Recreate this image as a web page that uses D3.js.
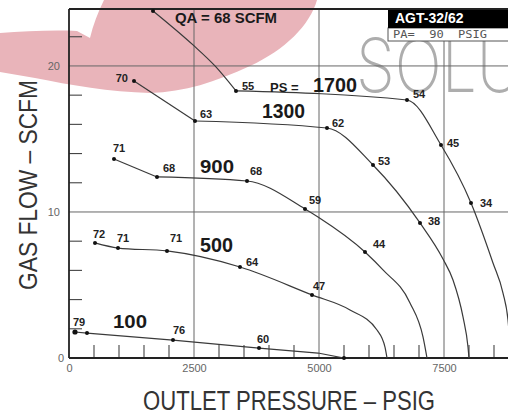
<!DOCTYPE html>
<html><head><meta charset="utf-8">
<script src="https://cdn.jsdelivr.net/npm/d3@7"></script>
<style>body{margin:0;background:#fff}svg{display:block}</style>
</head><body><svg id="c" width="508" height="417"></svg>
<script>
// ---------- data (outlet pressure psig, gas flow SCFM) ----------
const pressureTicks = [0, 2500, 5000, 7500];
const flowTicks = [0, 10, 20];
const psLevels = ["100", "500", "900", "1300", "1700"];

const curveQA   = [[1680,23.77],[2480,21.44],[2920,20.0],[3340,18.29]];
const curve1700 = [[3340,18.29],[6760,17.67],[7440,14.59],[8040,10.62],[8480,6.51],[8680,4.45],[8780,2.6],[8840,0]];
const curve1300 = [[1300,18.97],[2520,16.23],[5160,15.75],[6080,13.22],[7020,9.25],[7480,6.78],[7680,5.34],[7880,2.81],[7980,0.75],[8000,0]];
const curve900  = [[900,13.63],[1760,12.40],[3560,12.12],[4720,10.21],[4980,9.66],[5920,7.26],[6280,6.03],[6820,3.77],[7080,1.44],[7160,0]];
const curve500  = [[520,7.88],[980,7.53],[1960,7.33],[3420,6.23],[4860,4.32],[5620,3.29],[6160,1.92],[6320,0.75],[6360,0]];
const curve100  = [[120,1.78],[360,1.71],[2080,1.23],[3800,0.68],[4980,0.34],[5500,0]];

const marksQA   = [[1680,23.77,""]];
const marks1700 = [[3340,18.29,"55"],[6760,17.67,"54"],[7440,14.59,"45"],[8040,10.62,"34"]];
const marks1300 = [[1300,18.97,"70"],[2520,16.23,"63"],[5160,15.75,"62"],[6080,13.22,"53"],[7020,9.25,"38"]];
const marks900  = [[900,13.63,"71"],[1760,12.40,"68"],[3560,12.12,"68"],[4720,10.21,"59"],[5920,7.26,"44"]];
const marks500  = [[520,7.88,"72"],[980,7.53,"71"],[1960,7.33,"71"],[3420,6.23,"64"],[4860,4.32,"47"]];
const marks100  = [[120,1.78,"79"],[360,1.71,""],[2080,1.23,"76"],[3800,0.68,"60"],[5500,0,""]];

// ---------- drawing ----------
const svg = d3.select("#c");
const W = 508, H = 417;
const L = 69, R = 508, T = 9, B = 358;
const x = d3.scaleLinear().domain([0, 8780]).range([L, R]);
const y = d3.scaleLinear().domain([0, 23.9]).range([B, T]);

svg.append("rect").attr("width", W).attr("height", H).attr("fill", "#fff");

// watermark blob + text
svg.append("path")
  .attr("d", "M0,33 C25,31 55,30 77,31 L90,38 C93,25 98,12 104,0 L317,0 C310,25 285,50 250,66 C215,82 185,92 150,93 C110,92 70,85 35,78 L0,72 Z")
  .attr("fill", "#e9b4ba");
svg.append("text").attr("x", 356).attr("y", 92).text("SOLU")
  .attr("font-family", "Inter, 'DejaVu Sans', sans-serif").attr("font-weight", 200)
  .attr("font-size", 74).attr("fill", "#adadad")
  .attr("textLength", 166).attr("lengthAdjust", "spacingAndGlyphs");

svg.append("defs").append("clipPath").attr("id", "plot")
  .append("rect").attr("x", L).attr("y", T).attr("width", R - L + 10).attr("height", B - T);

// grid
const grid = svg.append("g").attr("stroke", "#666").attr("stroke-width", 1);
pressureTicks.filter(v => v > 0).forEach(v =>
  grid.append("line").attr("x1", x(v)).attr("x2", x(v)).attr("y1", y(23.9)).attr("y2", y(0)));
flowTicks.filter(v => v > 0).forEach(v =>
  grid.append("line").attr("x1", x(0)).attr("x2", R).attr("y1", y(v)).attr("y2", y(v)));

// minor ticks
const minor = svg.append("g").attr("stroke", "#444").attr("stroke-width", 1.1);
d3.range(500, 8780, 500).filter(v => v % 2500).forEach(v =>
  minor.append("line").attr("x1", x(v)).attr("x2", x(v)).attr("y1", B).attr("y2", B - 13));
d3.range(2, 24, 2).filter(v => v % 10).forEach(v =>
  minor.append("line").attr("x1", L).attr("x2", L + 13).attr("y1", y(v)).attr("y2", y(v)));

// axes tick labels
const fontTick = "'Liberation Sans', Arial, sans-serif";
const ax = svg.append("g").attr("transform", `translate(0,${B})`)
  .call(d3.axisBottom(x).tickValues(pressureTicks).tickFormat(d3.format("d")).tickSize(0).tickPadding(6));
const ay = svg.append("g").attr("transform", `translate(${L},0)`)
  .call(d3.axisLeft(y).tickValues(flowTicks).tickFormat(d3.format("d")).tickSize(0).tickPadding(9));
[ax, ay].forEach(g => {
  g.select(".domain").remove();
  g.selectAll("text").attr("font-family", fontTick).attr("font-size", 11).attr("fill", "#666");
});
ay.selectAll(".tick").filter(d => d === 0).select("text").attr("x", -5);

// frame
const frame = svg.append("g").attr("stroke", "#222").attr("stroke-width", 1.8).attr("fill", "none");
frame.append("line").attr("x1", L).attr("x2", R).attr("y1", T).attr("y2", T);
frame.append("line").attr("x1", L).attr("x2", L).attr("y1", T).attr("y2", B);
frame.append("line").attr("x1", L).attr("x2", R).attr("y1", B).attr("y2", B);

// curves
const lin = d3.line().x(d => x(d[0])).y(d => y(d[1]));
const mono = d3.line().curve(d3.curveMonotoneX).x(d => x(d[0])).y(d => y(d[1]));
const series = [
  { pts: curveQA, marks: marksQA, sharp: 0 },
  { pts: curve1700, marks: marks1700, sharp: 0 },
  { pts: curve1300, marks: marks1300, sharp: 1 },
  { pts: curve900, marks: marks900, sharp: 1 },
  { pts: curve500, marks: marks500, sharp: 0 },
  { pts: curve100, marks: marks100, sharp: curve100.length - 1 }
];
const cg = svg.append("g").attr("clip-path", "url(#plot)")
  .attr("fill", "none").attr("stroke", "#3a3a3a").attr("stroke-width", 1.2);
series.forEach(s => {
  if (s.sharp > 0) cg.append("path").attr("d", lin(s.pts.slice(0, s.sharp + 1)));
  if (s.sharp < s.pts.length - 1) cg.append("path").attr("d", mono(s.pts.slice(s.sharp)));
});

// label offsets (layout)
const offsets = [
  [[0,0,"start"]],
  [[6,-1,"start"],[6,-2,"start"],[6,2,"start"],[9,4,"start"]],
  [[-6,1,"end"],[5,-3,"start"],[5,-1,"start"],[5,0,"start"],[8,2,"start"]],
  [[-1,-7,"start"],[6,-5,"start"],[3,-6,"start"],[4,-5,"start"],[8,-4,"start"]],
  [[-2,-5,"start"],[-1,-6,"start"],[3,-9,"start"],[6,-1,"start"],[1,-5,"start"]],
  [[-2,-6,"start"],[0,0,"start"],[0,-6,"start"],[-2,-5,"start"],[0,0,"start"]]
];
const mg = svg.append("g");
const lg = svg.append("g").attr("font-family", fontTick).attr("font-weight", "bold")
  .attr("font-size", 11).attr("fill", "#222");
series.forEach((s, si) => {
  s.marks.forEach((m, mi) => {
    mg.append("circle").attr("cx", x(m[0])).attr("cy", y(m[1]))
      .attr("r", mi === 0 && si === 5 ? 2.6 : 2).attr("fill", "#111");
    if (m[2]) {
      const o = offsets[si][mi];
      lg.append("text").attr("x", x(m[0]) + o[0]).attr("y", y(m[1]) + o[1])
        .attr("text-anchor", o[2]).text(m[2]);
    }
  });
});

// PS level labels
const big = svg.append("g").attr("font-family", fontTick).attr("font-weight", "bold").attr("fill", "#1a1a1a");
const bigPos = [[113,328,17.5,34],[200,252,19.5,33],[200,173,18.5,34],[262,118,21,43],[313,92,21,44]];
psLevels.forEach((t, i) => {
  const p = bigPos[i];
  big.append("text").attr("x", p[0]).attr("y", p[1]).attr("font-size", p[2])
    .attr("textLength", p[3]).attr("lengthAdjust", "spacingAndGlyphs").text(t);
});
big.append("text").attr("x", 270).attr("y", 92).attr("font-size", 13).text("PS =");
big.append("text").attr("x", 175).attr("y", 23).attr("font-size", 14)
  .attr("textLength", 102).attr("lengthAdjust", "spacingAndGlyphs").text("QA = 68 SCFM");

// title box
svg.append("rect").attr("x", 388).attr("y", 28).attr("width", 122).attr("height", 13)
  .attr("fill", "#fff").attr("stroke", "#555").attr("stroke-width", 1);
svg.append("rect").attr("x", 388).attr("y", 10).attr("width", 122).attr("height", 18).attr("fill", "#000");
svg.append("text").attr("x", 395).attr("y", 23).attr("font-family", fontTick).attr("font-weight", "bold")
  .attr("font-size", 14).attr("fill", "#fff").text("AGT-32/62");
svg.append("text").attr("x", 393).attr("y", 38).attr("font-family", "'DejaVu Sans Mono', monospace")
  .attr("font-size", 10).attr("fill", "#555").attr("textLength", 94)
  .attr("lengthAdjust", "spacingAndGlyphs").attr("xml:space", "preserve").text("PA=  90  PSIG");

// axis titles
const fontTitle = "'Liberation Sans Narrow', 'Liberation Sans', Arial, sans-serif";
svg.append("text").attr("transform", "translate(37,185) rotate(-90)")
  .attr("text-anchor", "middle").attr("font-family", fontTitle).attr("font-size", 26)
  .attr("fill", "#333").attr("textLength", 210).attr("lengthAdjust", "spacingAndGlyphs")
  .text("GAS FLOW – SCFM");
svg.append("text").attr("x", 143).attr("y", 410)
  .attr("font-family", fontTitle).attr("font-size", 27)
  .attr("fill", "#333").attr("textLength", 292).attr("lengthAdjust", "spacingAndGlyphs")
  .text("OUTLET PRESSURE – PSIG");
</script></body></html>
